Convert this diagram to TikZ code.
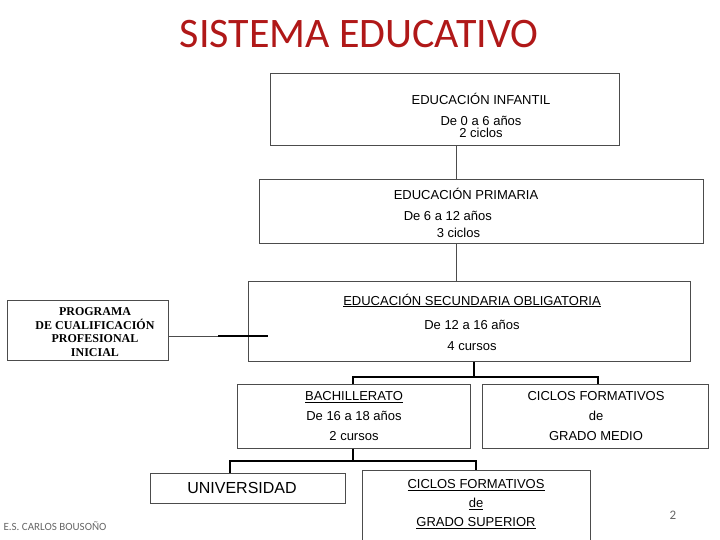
\documentclass[tikz,border=0pt]{standalone}
\usepackage{fontspec}
\setmainfont{Liberation Sans}
\newfontfamily\serifbox{Liberation Serif}
\newfontfamily\titlefont{Carlito}
\usetikzlibrary{positioning}
\definecolor{TitleRed}{RGB}{176,24,24}
\begin{document}
\begin{tikzpicture}[x=1pt,y=-1pt]
        % estilos
        \tikzset{
            etapa/.style={draw=black!70, thick, inner sep=0pt, anchor=north west},
            rotulo/.style={font=\fontsize{13}{20}\selectfont, align=center},
            rama/.style={draw=black, line width=1.6pt},
            fina/.style={draw=black!70, thin}
        }
        \useasboundingbox (0,0) rectangle (720,540);
        \node[text=TitleRed, font=\titlefont\fontsize{42}{44}\selectfont] (titulo) at (359,34) {SISTEMA EDUCATIVO};

        % Cajas de las etapas
        \node[etapa, minimum width=349, minimum height=72] (inf) at (270,73) {};
        \node[font=\fontsize{13}{12}\selectfont, align=center] at (481,115) {EDUCACIÓN INFANTIL\\[9pt]De 0 a 6 años\\2 ciclos};
        \node[etapa, minimum width=444, minimum height=64] (pri) at (259,179) {};
        \node[font=\fontsize{13}{17}\selectfont, align=left] at (466,213) {EDUCACIÓN PRIMARIA\\[4pt]\hspace*{10pt}De 6 a 12 años\\\hspace*{43pt}3 ciclos};
        \node[etapa, minimum width=442, minimum height=80] (eso) at (248,281) {};
        \node[rotulo, font=\fontsize{13}{21}\selectfont] at (472,322) {\underline{EDUCACIÓN SECUNDARIA OBLIGATORIA}\\[3pt]De 12 a 16 años\\4 cursos};
        \node[etapa, minimum width=161, minimum height=60] (pcpi) at (7,300) {};
        \node[font=\serifbox\bfseries\fontsize{12}{13.5}\selectfont, align=center] at (95,332) {PROGRAMA\\DE CUALIFICACIÓN\\PROFESIONAL\\INICIAL};
        \node[etapa, minimum width=233, minimum height=64] (bach) at (237,384) {};
        \node[rotulo] at (354,416) {\underline{BACHILLERATO}\\De 16 a 18 años\\2 cursos};
        \node[etapa, minimum width=226, minimum height=64] (cfgm) at (482,384) {};
        \node[rotulo] at (596,416) {CICLOS FORMATIVOS\\de\\GRADO MEDIO};
        \node[etapa, minimum width=195, minimum height=30] (uni) at (150,473) {};
        \node[font=\fontsize{16}{18}\selectfont] at (242,488) {UNIVERSIDAD};
        \node[etapa, minimum width=228, minimum height=70] (cfgs) at (362,470) {};
        \node[rotulo, font=\fontsize{13}{19}\selectfont] at (476,504) {\underline{CICLOS FORMATIVOS}\\\underline{de}\\\underline{GRADO SUPERIOR}};

        % Conectores
        \draw[fina] (inf.south -| 456,0) -- (pri.north -| 456,0);
        \draw[fina] (pri.south -| 456,0) -- (eso.north -| 456,0);
        \draw[fina] (pcpi.east |- 0,336) -- (eso.west |- 0,336);
        \draw[rama] (218,336) -- (268,336);
        \draw[rama] (eso.south -| 474,0) -- (474,377) -- (353,377) -- (bach.north -| 353,0);
        \draw[rama] (474,377) -- (598,377) -- (cfgm.north -| 598,0);
        \draw[rama] (bach.south -| 353,0) -- (353,461) -- (230,461) -- (uni.north -| 230,0);
        \draw[rama] (353,461) -- (476,461) -- (cfgs.north -| 476,0);

        % Pie
        \node[text=black!60, font=\titlefont\fontsize{11}{12}\selectfont, anchor=west] (pie) at (0,526) {E.S. CARLOS BOUSOÑO};
        \node[text=black!60, font=\titlefont\fontsize{13}{14}\selectfont] (num) at (673,515) {2};
\end{tikzpicture}
\end{document}
